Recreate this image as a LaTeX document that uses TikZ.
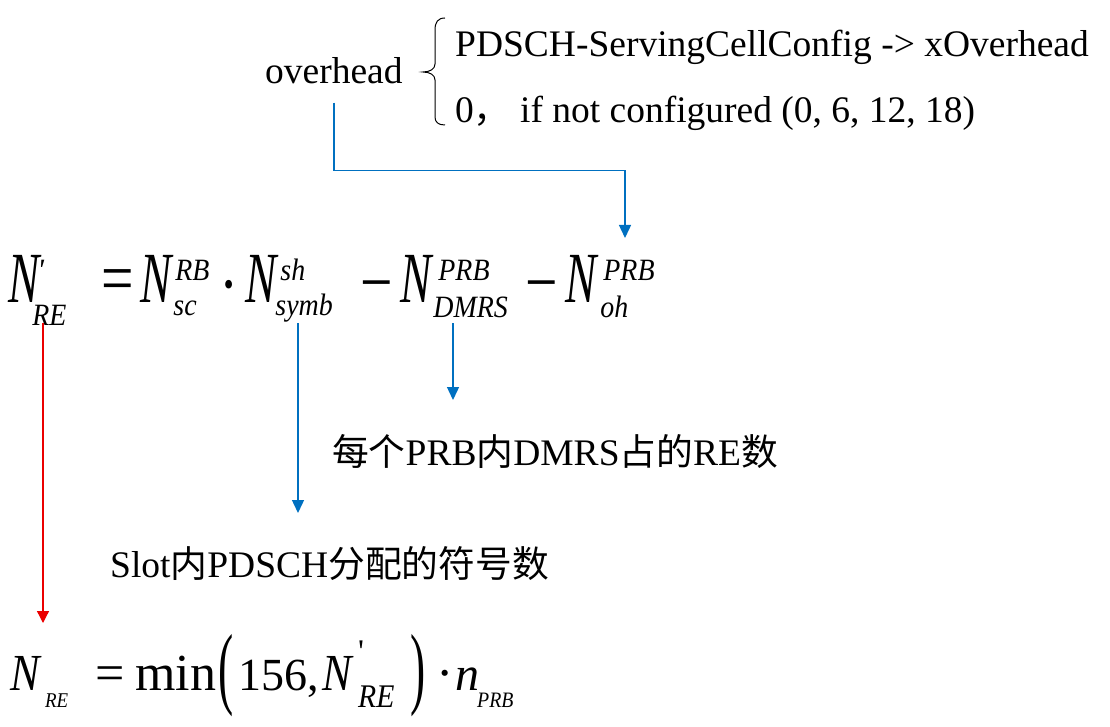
\documentclass[tikz,border=0pt]{standalone}
\usepackage{fontspec}
\usetikzlibrary{arrows.meta}
\setmainfont{Liberation Serif}
\newfontfamily\cjk[Scale=0.98]{Noto Sans CJK SC}
\newfontfamily\fnarrow[FakeStretch=0.65]{Liberation Serif}
\newfontfamily\fop[FakeStretch=0.8]{Liberation Serif}
\newfontfamily\fsub[FakeStretch=0.9]{Liberation Serif}
\newfontfamily\fbot[FakeStretch=0.85]{Liberation Serif}
\newfontfamily\fparen[FakeStretch=0.5]{Liberation Serif}
\newfontfamily\fprime[Ligatures=TeXOff]{Liberation Serif}
\definecolor{arrblue}{RGB}{0,112,192}
\definecolor{arrred}{RGB}{235,0,0}
\newcommand{\zh}[1]{{\cjk #1}}
\newcommand{\scr}[2]{{\fsub\itshape\fontsize{#1}{#1}\selectfont #2}}
\newcommand{\prm}[1]{{\fprime\fontsize{#1}{#1}\selectfont '}}
% N with sup/sub: sup, sub, sup kern, sub kern, sub drop
\newcommand{\Nss}[5]{{\fnarrow\itshape N}\rlap{\kern#4\raisebox{-#5}{\scr{31}{#2}}}\kern#3\raisebox{22pt}{\scr{31}{#1}}}
\tikzset{
  txt/.style={inner sep=0pt, anchor=base west, font=\fontsize{37.5}{40}\selectfont},
  ftop/.style={inner sep=0pt, anchor=base west, font=\fop\fontsize{72}{72}\selectfont},
  fbt/.style={inner sep=0pt, anchor=base west, font=\fontsize{52}{52}\selectfont},
  fpar/.style={inner sep=0pt, anchor=base west, font=\fparen\fontsize{91}{91}\selectfont},
  blueline/.style={draw=arrblue, line width=1.4pt, -{Triangle[width=12pt,length=13pt]}},
  redline/.style={draw=arrred, line width=1.3pt, -{Triangle[width=12pt,length=12pt]}}
}
\begin{document}
\begin{tikzpicture}[x=1pt,y=-1pt]
	\useasboundingbox (0,0) rectangle (1110,727);
	% overhead and its cases
	\node[txt] (ovh) at (265,84) {overhead};
	\node[txt] (cfg1) at (455,57) {PDSCH-ServingCellConfig -> xOverhead};
	\node[txt] (cfg2) at (455,123) {0\zh{，}\ if not configured (0, 6, 12, 18)};
	\draw[line width=1pt] (445,18) .. controls (438,18) and (435,22) .. (435,30) -- (435,64)
		.. controls (435,69) and (430,72) .. (423,72) .. controls (430,72) and (435,75) .. (435,80)
		-- (435,117) .. controls (435,122) and (438,125) .. (445,125);
	% first formula
	\node[ftop] (NREp) at (8,302) {\Nss{\prm{31}}{RE}{-2pt}{-7pt}{23pt}};
	\node[ftop] (eq1) at (101,302) {=};
	\node[ftop] (Nsc) at (140,302) {\Nss{RB}{sc}{4pt}{2pt}{13pt}};
	\node[ftop] (dot1) at (219,308) {·};
	\node[ftop] (Nsymb) at (245,302) {\Nss{sh}{symb}{4pt}{-1pt}{13pt}};
	\node[ftop] (min1) at (360,306) {−};
	\node[ftop] (Ndmrs) at (400,302) {\Nss{PRB}{DMRS}{7pt}{2pt}{15pt}};
	\node[ftop] (min2) at (525,306) {−};
	\node[ftop] (Noh) at (565,302) {\Nss{PRB}{oh}{7pt}{4pt}{15pt}};
	% labels
	\node[txt] (dmrsLbl) at (332,465) {\zh{每个}PRB\zh{内}DMRS\zh{占的}RE\zh{数}};
	\node[txt] (slotLbl) at (110,577) {Slot\zh{内}PDSCH\zh{分配的符号数}};
	% second formula
	\node[fbt] (NRE) at (10,690) {{\fbot\itshape N}\kern5.5pt\raisebox{-17pt}{\scr{21}{RE}}};
	\node[fbt] (eq2) at (95,690) {=};
	\node[fbt] (minw) at (135,690) {min};
	\node[fpar] (lpar) at (218,697) {(};
	\node[fbt, font=\fontsize{46}{46}\selectfont] (num) at (238,690) {156,};
	\node[fbt] (NREp2) at (322,690) {{\fbot\itshape N}\kern6.5pt\rlap{\raisebox{28pt}{\prm{33}}}\raisebox{-17pt}{\scr{33}{RE}}};
	\node[fpar] (rpar) at (410,697) {)};
	\node[fbt] (dot2) at (436,690) {·};
	\node[fbt] (nPRB) at (455,690) {{\fontsize{48}{48}\selectfont\itshape n}\kern-2pt\raisebox{-17pt}{\scr{22}{PRB}}};
	% connectors
	\coordinate (ohTop) at ([shift={(60,-64)}]Noh.base west);
	\coordinate (rStart) at ([shift={(35,21)}]NREp.base west);
	\coordinate (rEnd) at ([shift={(33,-67)}]NRE.base west);
	\coordinate (sStart) at ([shift={(53,21)}]Nsymb.base west);
	\coordinate (sEnd) at ([shift={(188,-64)}]slotLbl.base west);
	\coordinate (dStart) at ([shift={(53,21)}]Ndmrs.base west);
	\coordinate (dEnd) at ([shift={(121,-65)}]dmrsLbl.base west);
	\draw[blueline] (ovh.south) ++(0,18) -- ++(0,68) -| (ohTop);
	\draw[redline] (rStart) -- (rEnd);
	\draw[blueline] (sStart) -- (sEnd);
	\draw[blueline] (dStart) -- (dEnd);
\end{tikzpicture}
\end{document}
